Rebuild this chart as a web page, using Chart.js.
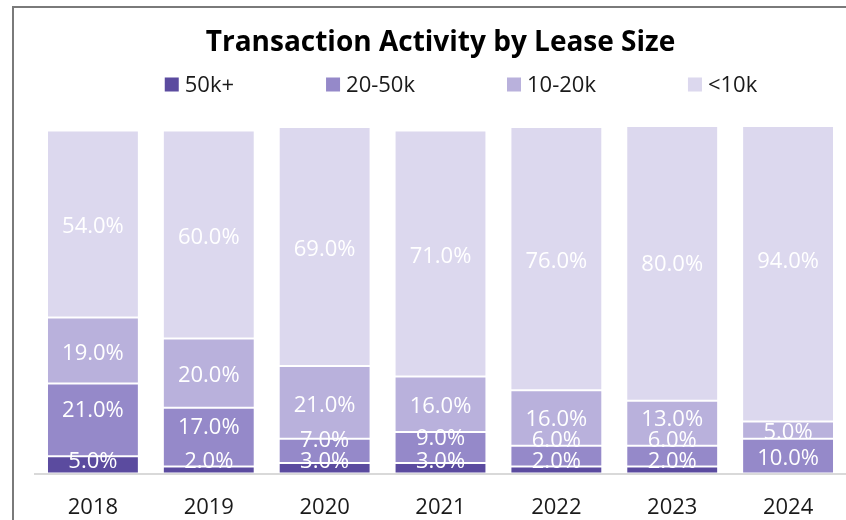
<!DOCTYPE html>
<html>
<head>
<meta charset="utf-8">
<script src="https://cdn.jsdelivr.net/npm/chart.js@4.4.1/dist/chart.umd.min.js"></script>
<style>
  html, body { margin: 0; padding: 0; background: #ffffff; }
  #wrap { position: relative; width: 846px; height: 520px; overflow: hidden; }
  #frame { position: absolute; left: 12px; top: 6px; width: 900px; height: 600px;
           border-left: 2px solid #7a7a7a; border-top: 2px solid #7a7a7a; box-sizing: border-box; }
  #c { position: absolute; left: 0; top: 0; }
</style>
</head>
<body>
<div id="wrap">
  <div id="frame"></div>
  <canvas id="c" width="846" height="520"></canvas>
</div>
<script>
const years = ['2018', '2019', '2020', '2021', '2022', '2023', '2024'];
const seriesNames = ['50k+', '20-50k', '10-20k', '<10k'];
const s50kPlus = [5, 2, 3, 3, 2, 2, 0];
const s20to50k = [21, 17, 7, 9, 6, 6, 10];
const s10to20k = [19, 20, 21, 16, 16, 13, 5];
const sUnder10k = [54, 60, 69, 71, 76, 80, 94];
const seriesColors = ['#5b4b9f', '#9589c9', '#b9b1dc', '#dcd8ee'];

const FONT = '"Open Sans", "Noto Sans", sans-serif';

const labelPlugin = {
  id: 'segLabels',
  afterDatasetsDraw(chart) {
    const ctx = chart.ctx;
    ctx.save();
    ctx.font = '22px ' + FONT;
    ctx.fillStyle = '#ffffff';
    ctx.textAlign = 'center';
    ctx.textBaseline = 'middle';
    const n = chart.data.labels.length;
    const bottom = chart.chartArea.bottom;
    const glyphOffset = 3;
    for (let i = 0; i < n; i++) {
      let prev = null;
      let belowHasLabel = false;
      chart.data.datasets.forEach((ds, di) => {
        const v = ds.data[i];
        if (!v) return;
        const el = chart.getDatasetMeta(di).data[i];
        const center = (el.y + el.base) / 2 + glyphOffset;
        let y;
        if (prev === null) {
          y = Math.min(center, bottom - 12);
        } else {
          const shift = (di === 1 && belowHasLabel) ? 12 : 0;
          y = Math.min(center - shift, prev - 21);
        }
        ctx.fillText(v.toFixed(1) + '%', el.x, y);
        prev = y;
        belowHasLabel = true;
      });
    }
    ctx.restore();
  }
};

const legendPlugin = {
  id: 'customLegend',
  afterDraw(chart) {
    const ctx = chart.ctx;
    ctx.save();
    ctx.font = '22px ' + FONT;
    const box = 14, gapText = 6, gapItem = 92;
    const items = chart.data.datasets.map(ds => ({ text: ds.label, color: ds.backgroundColor, w: ctx.measureText(ds.label).width }));
    let total = 0;
    items.forEach((it, k) => { total += box + gapText + it.w + (k < items.length - 1 ? gapItem : 0); });
    let x = 461 - total / 2;
    const baseY = 91.5;
    items.forEach(it => {
      ctx.fillStyle = it.color;
      ctx.fillRect(x, baseY - box, box, box);
      ctx.fillStyle = '#1a1a1a';
      ctx.textAlign = 'left';
      ctx.textBaseline = 'alphabetic';
      ctx.fillText(it.text, x + box + gapText, baseY);
      x += box + gapText + it.w + gapItem;
    });
    ctx.restore();
  }
};

const allSeries = [s50kPlus, s20to50k, s10to20k, sUnder10k];
const datasets = allSeries.map((arr, k) => ({
  label: seriesNames[k],
  data: arr,
  backgroundColor: seriesColors[k],
  borderColor: 'rgba(255,255,255,0.25)',
  borderWidth: 1,
  borderSkipped: false,
  barPercentage: 0.793,
  categoryPercentage: 1.0,
  clip: 0
}));

new Chart(document.getElementById('c'), {
  type: 'bar',
  data: { labels: years, datasets: datasets },
  options: {
    responsive: false,
    animation: false,
    layout: { padding: { left: 35, right: 0, top: 0, bottom: 2 } },
    plugins: {
      legend: { display: false },
      tooltip: { enabled: false },
      title: {
        display: true,
        text: 'Transaction Activity by Lease Size',
        color: '#000000',
        font: { family: FONT, size: 28, weight: 'bold', lineHeight: 1.2 },
        padding: { top: 26, bottom: 67.5 }
      }
    },
    scales: {
      x: {
        stacked: true,
        grid: { display: false, drawTicks: false },
        border: { display: true, color: '#d9d9d9', width: 2 },
        ticks: { color: '#1a1a1a', font: { family: FONT, size: 22, lineHeight: 0.25 }, padding: 31.5 },
        afterFit(scale) { scale.height = 44.5; }
      },
      y: {
        stacked: true,
        display: false,
        min: 0,
        max: 100
      }
    }
  },
  plugins: [labelPlugin, legendPlugin]
});
</script>
</body>
</html>
